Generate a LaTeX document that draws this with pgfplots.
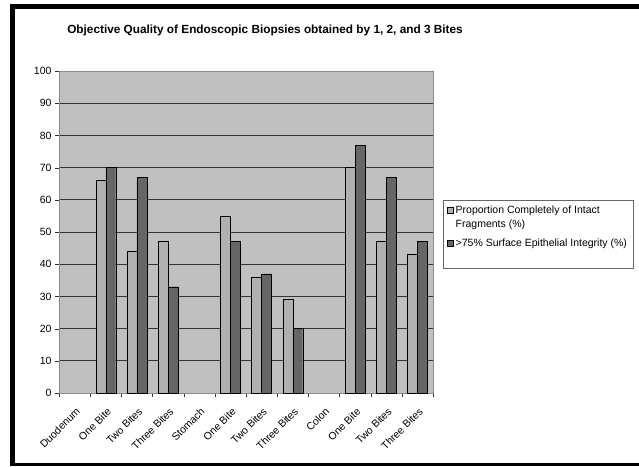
\documentclass[border=0pt]{standalone}
\usepackage{fontspec}
\setmainfont{Liberation Sans}
\usepackage{pgfplots}
\pgfplotsset{compat=1.18}
\definecolor{plotbg}{RGB}{192,192,192}
\definecolor{lightbar}{RGB}{176,176,176}
\definecolor{darkbar}{RGB}{102,102,102}
\definecolor{gridc}{RGB}{50,50,50}
\begin{document}
\begin{tikzpicture}[x=1pt,y=1pt]
\useasboundingbox (0,0) rectangle (639,466);
% outer frame
\fill[black] (10,0) rectangle (645,462);
\fill[white] (15,3) rectangle (645,457);
\node[font=\fontsize{11.8}{14}\selectfont\bfseries] at (265,436) {Objective Quality of Endoscopic Biopsies obtained by 1, 2, and 3 Bites};
\begin{axis}[
  at={(59pt,73pt)}, anchor=south west,
  scale only axis, width=374pt, height=322pt,
  ybar, bar width=0.32,
  xmin=-0.5, xmax=11.5, ymin=0, ymax=100,
  ytick={0,10,...,100},
  xtick={0,...,11},
  xticklabels={Duodenum, One Bite, Two Bites, Three Bites, Stomach, One Bite, Two Bites, Three Bites, Colon, One Bite, Two Bites, Three Bites},
  minor xtick={-0.5,0.5,...,11.5},
  major x tick style={draw=none},
  tick align=outside, major tick length=4pt, minor tick length=4pt,
  xtick pos=bottom, ytick pos=left,
  tick style={black!80},
  ymajorgrids, major grid style={gridc, line width=0.8pt},
  axis line style={black!45},
  axis background/.style={fill=plotbg},
  tick label style={font=\fontsize{10.5}{12}\selectfont},
  /pgf/number format/assume math mode=true,
  xticklabel style={rotate=45, anchor=north east, xshift=-3pt, yshift=-4pt},
  legend style={at={(1.027,0.6)}, anchor=north west, draw=black!60,
    font=\fontsize{10.5}{14}\selectfont, cells={anchor=west, align=left},
    row sep=6pt, inner sep=4pt},
  legend image code/.code={\draw[#1, draw=black] (0pt,4pt) rectangle (6pt,10pt);},
]
\addplot[fill=lightbar, draw=black, bar shift=-0.16] coordinates {
(1,66) (2,44) (3,47) (5,55) (6,36) (7,29) (9,70) (10,47) (11,43)
};
\addplot[fill=darkbar, draw=black, bar shift=0.16] coordinates {
(1,70) (2,67) (3,33) (5,47) (6,37) (7,20) (9,77) (10,67) (11,47)
};
\legend{{Proportion Completely of Intact\\Fragments (\%)}, {>75\% Surface Epithelial Integrity (\%)\\\mbox{}}}
\end{axis}
\end{tikzpicture}
\end{document}
